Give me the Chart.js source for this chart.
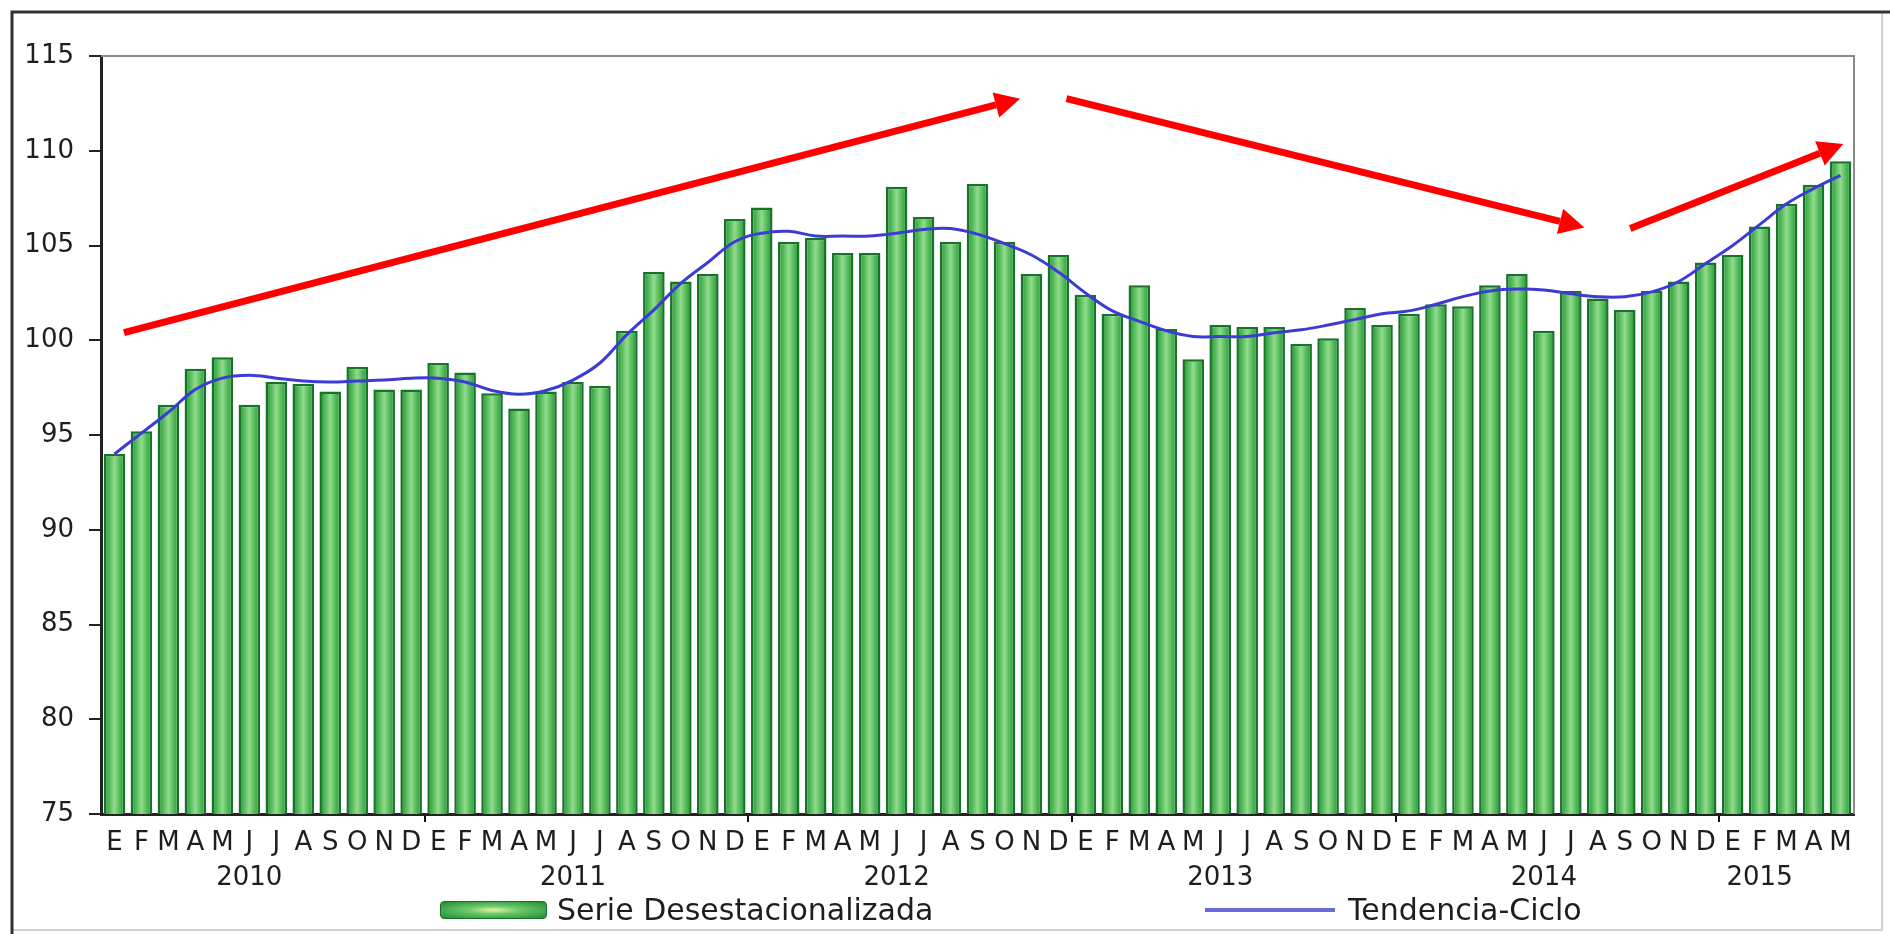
<!DOCTYPE html>
<html lang="es">
<head>
<meta charset="UTF-8">
<title>Serie desestacionalizada y tendencia-ciclo</title>
<style>
  body { margin: 0; background: #fff; }
  #wrap { position: relative; width: 1890px; height: 934px; }
  .lg { position: absolute; font-family: "DejaVu Sans", sans-serif; font-size: 30px; line-height: 34px; color: #1e1e1e; white-space: nowrap; }
  #swGreen { position: absolute; left: 440px; top: 901px; width: 107px; height: 18px; border-radius: 4px;
    background: radial-gradient(ellipse at center, #e4f2a8 0%, #6cc86a 35%, #1e8c32 100%); border: 1px solid #16702a; box-sizing: border-box; }
  #swBlue { position: absolute; left: 1205px; top: 908px; width: 130px; height: 4px; background: #6a6ad8; }
</style>
</head>
<body>
<div id="wrap">
  <canvas id="myChart" width="1890" height="934"></canvas>
  <div id="swGreen"></div>
  <div class="lg" style="left:557px; top:893px;">Serie Desestacionalizada</div>
  <div id="swBlue"></div>
  <div class="lg" style="left:1348px; top:893px;">Tendencia-Ciclo</div>
</div>

<script src="https://cdn.jsdelivr.net/npm/chart.js"></script>
<script>
  const months = ['E', 'F', 'M', 'A', 'M', 'J', 'J', 'A', 'S', 'O', 'N', 'D'];
  const years = ['2010', '2011', '2012', '2013', '2014', '2015'];
  const monthsPerYear = [12, 12, 12, 12, 12, 5];

  // Serie desestacionalizada (barras)
  const serie = [
    94.0, 95.2, 96.6, 98.5, 99.1, 96.6, 97.8, 97.7, 97.3, 98.6, 97.4, 97.4,
    98.8, 98.3, 97.2, 96.4, 97.3, 97.8, 97.6, 100.5, 103.6, 103.1, 103.5, 106.4,
    107.0, 105.2, 105.4, 104.6, 104.6, 108.1, 106.5, 105.2, 108.25, 105.2, 103.5, 104.5,
    102.4, 101.4, 102.9, 100.6, 99.0, 100.8, 100.7, 100.7, 99.8, 100.1, 101.7, 100.8,
    101.4, 101.9, 101.8, 102.9, 103.5, 100.5, 102.6, 102.2, 101.6, 102.6, 103.1, 104.1,
    104.5, 106.0, 107.2, 108.2, 109.45
  ];

  // Tendencia-ciclo (línea)
  const tendencia = [
    94.0, 95.1, 96.2, 97.4, 98.0, 98.15, 98.0, 97.85, 97.8, 97.85, 97.9, 98.0,
    98.0, 97.8, 97.35, 97.15, 97.35, 97.9, 98.8, 100.3, 101.6, 103.0, 104.1, 105.2,
    105.65, 105.75, 105.5, 105.5, 105.5, 105.65, 105.85, 105.9, 105.6, 105.1, 104.5, 103.6,
    102.5, 101.55, 101.0, 100.5, 100.2, 100.2, 100.2, 100.4, 100.55, 100.8, 101.1, 101.4,
    101.55, 101.9, 102.3, 102.6, 102.7, 102.65, 102.45, 102.3, 102.3, 102.55, 103.1, 104.05,
    105.0, 106.1, 107.2, 108.0, 108.7
  ];

  // flechas rojas: [indice inicio, valor inicio, indice fin, valor fin]
  const arrows = [
    [0.35, 100.4, 33.58, 112.75],
    [35.3, 112.75, 54.5, 105.95],
    [56.2, 105.9, 64.1, 110.35]
  ];

  // etiquetas: mes, y el año debajo de un mes central
  const labels = [];
  years.forEach((y, yi) => {
    const n = monthsPerYear[yi];
    const mid = Math.floor(n / 2) - 1;
    for (let m = 0; m < n; m++) {
      labels.push(m === mid ? [months[m], y] : months[m]);
    }
  });

  const BAR_PCT = 0.8;

  function barFill(ctx) {
    const chart = ctx.chart;
    const x = chart.scales.x;
    if (!x || !chart.chartArea) return '#5cc060';
    const cx = x.getPixelForValue(ctx.dataIndex);
    const hw = (x.width / labels.length) * BAR_PCT / 2;
    const g = chart.ctx.createLinearGradient(cx - hw, 0, cx + hw, 0);
    g.addColorStop(0, '#238f35');
    g.addColorStop(0.3, '#5cc060');
    g.addColorStop(0.5, '#93db8e');
    g.addColorStop(0.7, '#5cc060');
    g.addColorStop(1, '#238f35');
    return g;
  }

  const decoPlugin = {
    id: 'deco',
    beforeDraw(chart) {
      const c = chart.ctx;
      c.save();
      c.fillStyle = '#fff';
      c.fillRect(0, 0, chart.width, chart.height);
      // marco exterior
      c.strokeStyle = '#d0d0d0';
      c.lineWidth = 2;
      c.beginPath();
      c.moveTo(1882, 12); c.lineTo(1882, 930); c.lineTo(12, 930);
      c.stroke();
      c.strokeStyle = '#333';
      c.lineWidth = 3;
      c.beginPath();
      c.moveTo(12, 934); c.lineTo(12, 12); c.lineTo(1890, 12);
      c.stroke();
      c.restore();
    },
    afterDatasetsDraw(chart) {
      const c = chart.ctx;
      const a = chart.chartArea;
      c.save();
      // borde superior y derecho del área
      c.strokeStyle = '#8a8a8a';
      c.lineWidth = 2;
      c.beginPath();
      c.moveTo(a.left, a.top); c.lineTo(a.right, a.top); c.lineTo(a.right, a.bottom);
      c.stroke();
      // flechas
      const xs = chart.scales.x, ys = chart.scales.y;
      c.strokeStyle = '#ff0000';
      c.fillStyle = '#ff0000';
      c.lineWidth = 7;
      arrows.forEach(([i0, v0, i1, v1]) => {
        const x0 = xs.getPixelForValue(i0), y0 = ys.getPixelForValue(v0);
        const x1 = xs.getPixelForValue(i1), y1 = ys.getPixelForValue(v1);
        const ang = Math.atan2(y1 - y0, x1 - x0);
        const hl = 25, hw = 13;
        const bx = x1 - hl * Math.cos(ang), by = y1 - hl * Math.sin(ang);
        c.beginPath();
        c.moveTo(x0, y0); c.lineTo(bx, by);
        c.stroke();
        c.beginPath();
        c.moveTo(x1, y1);
        c.lineTo(bx + hw * Math.sin(ang), by - hw * Math.cos(ang));
        c.lineTo(bx - hw * Math.sin(ang), by + hw * Math.cos(ang));
        c.closePath();
        c.fill();
      });
      c.restore();
    }
  };

  const ctx = document.getElementById('myChart');
  new Chart(ctx, {
    data: {
      labels: labels,
      datasets: [{
        type: 'line',
        label: 'Tendencia-Ciclo',
        data: tendencia,
        borderColor: '#3c3cd4',
        borderWidth: 3,
        pointRadius: 0,
        tension: 0.4,
        order: 1
      },
      {
        type: 'bar',
        label: 'Serie Desestacionalizada',
        data: serie,
        backgroundColor: barFill,
        borderColor: '#16742a',
        borderWidth: 2.5,
        borderSkipped: 'bottom',
        barPercentage: BAR_PCT,
        categoryPercentage: 1.0,
        order: 2
      }]
    },
    options: {
      responsive: false,
      animation: false,
      layout: { padding: { left: 0, top: 56, right: 36, bottom: 0 } },
      plugins: {
        legend: { display: false },
        tooltip: { enabled: false }
      },
      scales: {
        x: {
          offset: true,
          grid: {
            offset: true,
            drawOnChartArea: false,
            tickLength: 8,
            lineWidth: 2,
            color: (c) => (c.index > 0 && c.index % 12 === 0) ? '#111' : 'rgba(0,0,0,0)'
          },
          border: { color: '#222', width: 3 },
          ticks: {
            autoSkip: false,
            maxRotation: 0,
            minRotation: 0,
            padding: 4,
            color: '#1e1e1e',
            font: { family: 'DejaVu Sans', size: 26, lineHeight: 1.35 }
          },
          afterFit: (s) => { s.height = 120; }
        },
        y: {
          min: 75,
          max: 115,
          ticks: {
            stepSize: 5,
            padding: 15,
            color: '#1e1e1e',
            font: { family: 'DejaVu Sans', size: 26 }
          },
          grid: { drawOnChartArea: false, tickLength: 12, lineWidth: 2, color: '#222' },
          border: { color: '#222', width: 3 },
          afterFit: (s) => { s.width = 101; }
        }
      }
    },
    plugins: [decoPlugin]
  });
</script>
</body>
</html>
